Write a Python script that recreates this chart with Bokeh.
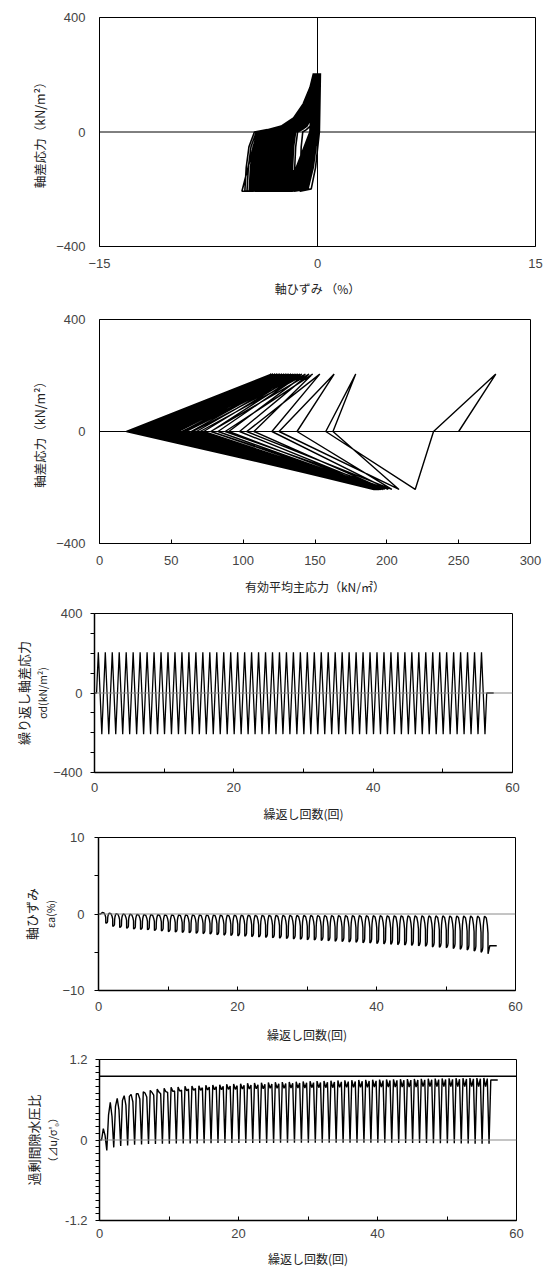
import numpy as np
from bokeh.plotting import figure
from bokeh.models import Range1d, FixedTicker, LinearAxis, Span
from bokeh.embed import file_html
from bokeh.resources import INLINE

# ---------------- data (one value per loading cycle) ----------------
# peak deviator stress in compression / extension (kN/m2)
q_comp = [205, 205, 205, 205, 205, 205, 205, 205, 205, 205,
          205, 205, 205, 205, 205, 205, 205, 205, 205, 205,
          205, 205, 205, 205, 205, 205, 205, 205, 205, 205,
          205, 205, 205, 205, 205, 205, 205, 205, 205, 205,
          205, 205, 205, 205, 205, 205, 205, 205, 205, 205,
          205, 205, 205, 205, 205, 205]
q_ext = [-207, -207, -207, -207, -207, -207, -207, -207, -207, -207,
         -207, -207, -207, -207, -207, -207, -207, -207, -207, -207,
         -207, -207, -207, -207, -207, -207, -207, -207, -207, -207,
         -207, -207, -207, -207, -207, -207, -207, -207, -207, -207,
         -207, -207, -207, -207, -207, -207, -207, -207, -207, -207,
         -207, -207, -207, -207, -207, -207]
# axial strain (%) at compression peak / extension peak
e_comp = [0.2, 0.12, 0.05, 0.0, -0.03, -0.05, -0.07, -0.08, -0.09, -0.1,
          -0.1, -0.11, -0.11, -0.12, -0.12, -0.13, -0.13, -0.14, -0.14, -0.15,
          -0.15, -0.15, -0.16, -0.16, -0.16, -0.17, -0.17, -0.17, -0.18, -0.18,
          -0.18, -0.19, -0.19, -0.19, -0.2, -0.2, -0.2, -0.2, -0.21, -0.21,
          -0.21, -0.22, -0.22, -0.22, -0.23, -0.23, -0.23, -0.24, -0.24, -0.24,
          -0.25, -0.25, -0.26, -0.26, -0.27, -0.28]
e_ext = [-1.2, -1.6, -1.75, -1.85, -1.95, -2.0, -2.05, -2.15, -2.2, -2.3,
         -2.35, -2.4, -2.45, -2.5, -2.55, -2.6, -2.7, -2.75, -2.8, -2.85,
         -2.9, -2.95, -3.0, -3.05, -3.1, -3.15, -3.2, -3.25, -3.3, -3.35,
         -3.4, -3.45, -3.5, -3.55, -3.6, -3.65, -3.7, -3.75, -3.8, -3.85,
         -3.9, -3.95, -4.0, -4.05, -4.1, -4.15, -4.2, -4.3, -4.35, -4.4,
         -4.5, -4.6, -4.7, -4.85, -5.0, -5.2]
# excess pore-pressure ratio at q=0 (rising), q=+peak, q=0 (falling), q=-peak
ru_tip = [0.0, 0.37, 0.5, 0.59, 0.65, 0.69, 0.72, 0.74, 0.76, 0.77,
          0.785, 0.79, 0.8, 0.805, 0.81, 0.815, 0.82, 0.825, 0.83, 0.835,
          0.84, 0.845, 0.85, 0.853, 0.856, 0.86, 0.863, 0.866, 0.869, 0.872,
          0.875, 0.878, 0.881, 0.884, 0.887, 0.89, 0.892, 0.894, 0.896, 0.898,
          0.9, 0.902, 0.904, 0.906, 0.908, 0.91, 0.912, 0.914, 0.916, 0.918,
          0.92, 0.921, 0.922, 0.923, 0.924, 0.925]
ru_top = [0.17, 0.56, 0.62, 0.66, 0.68, 0.69, 0.7, 0.71, 0.715, 0.72,
          0.725, 0.73, 0.735, 0.74, 0.74, 0.745, 0.75, 0.75, 0.755, 0.755,
          0.76, 0.76, 0.765, 0.765, 0.77, 0.77, 0.77, 0.775, 0.775, 0.775,
          0.78, 0.78, 0.78, 0.78, 0.785, 0.785, 0.785, 0.785, 0.785, 0.79,
          0.79, 0.79, 0.79, 0.79, 0.79, 0.79, 0.795, 0.795, 0.795, 0.795,
          0.795, 0.795, 0.795, 0.795, 0.795, 0.795]
ru_unl = [0.07, 0.35, 0.45, 0.52, 0.57, 0.61, 0.64, 0.67, 0.69, 0.71,
          0.73, 0.745, 0.76, 0.77, 0.78, 0.79, 0.795, 0.8, 0.805, 0.81,
          0.815, 0.82, 0.825, 0.83, 0.835, 0.84, 0.843, 0.846, 0.849, 0.852,
          0.855, 0.858, 0.861, 0.864, 0.867, 0.87, 0.873, 0.876, 0.879, 0.882,
          0.885, 0.887, 0.889, 0.891, 0.893, 0.895, 0.897, 0.899, 0.901, 0.903,
          0.905, 0.907, 0.909, 0.911, 0.913, 0.915]
ru_bot = [-0.155, -0.11, -0.09, -0.08, -0.07, -0.065, -0.06, -0.06, -0.055, -0.055,
          -0.05, -0.05, -0.05, -0.05, -0.048, -0.048, -0.046, -0.046, -0.045, -0.045,
          -0.045, -0.044, -0.044, -0.043, -0.043, -0.042, -0.042, -0.042, -0.041, -0.041,
          -0.04, -0.04, -0.04, -0.04, -0.04, -0.04, -0.04, -0.04, -0.04, -0.04,
          -0.042, -0.042, -0.043, -0.043, -0.044, -0.045, -0.046, -0.047, -0.048, -0.05,
          -0.05, -0.052, -0.053, -0.054, -0.055, -0.056]
p0 = 250.0          # initial effective mean stress (kN/m2)
ru_final = 0.895    # pore-pressure ratio after loading stops
e_final = -4.15     # axial strain after loading stops
t_end = 57.3        # end of record (cycles)
ru_limit = 0.95     # reference line in the pore-pressure panel

# ---------------- shape of one stress-strain loop (fractions of the strain range) ----------------
load_shape_s = [-0.15, -0.0625, 0.0, 0.01, 0.025, 0.06, 0.12, 0.19]
load_shape_f = [0.02, 0.06, 0.14, 0.33, 0.53, 0.71, 0.85, 0.95]
unload_shape_s = [0.5, 0.65, 0.74]
unload_shape_f = [0.95, 0.76, 0.55]

n = min(len(q_comp), len(q_ext), len(e_comp), len(e_ext),
        len(ru_tip), len(ru_top), len(ru_unl), len(ru_bot))
cycle_start = np.arange(n) + 0.3

key_t, key_q, key_ru = [0.0], [0.0], [0.0]
for k in range(n):
    t0 = cycle_start[k]
    key_t += [t0, t0 + 0.25, t0 + 0.5, t0 + 0.75]
    key_q += [0.0, q_comp[k], 0.0, q_ext[k]]
    key_ru += [ru_tip[k], ru_top[k], ru_unl[k], ru_bot[k]]
t_stop = cycle_start[n - 1] + 1.0
key_t += [t_stop, t_end]
key_q += [0.0, 0.0]
key_ru += [ru_final, ru_final]
key_t = np.array(key_t)
key_q = np.array(key_q)
key_ru = np.array(key_ru)
p_eff = p0 + key_q / 3.0 - p0 * key_ru

st, se = [0.0], [0.0]
prev_min = 0.0
for k in range(n):
    t0 = cycle_start[k]
    if k == 0:
        st.append(t0); se.append(0.0)
    else:
        for s, f in zip(load_shape_s, load_shape_f):
            st.append(t0 + s); se.append(prev_min + f * (e_comp[k] - prev_min))
    st.append(t0 + 0.25); se.append(e_comp[k])
    for s, f in zip(unload_shape_s, unload_shape_f):
        st.append(t0 + s); se.append(e_ext[k] + f * (e_comp[k] - e_ext[k]))
    st.append(t0 + 0.75); se.append(e_ext[k])
    prev_min = e_ext[k]
st += [t_stop, t_end]
se += [e_final, e_final]
st = np.array(st)
se = np.array(se)
sq = np.interp(st, key_t, key_q)

# ---------------- styling helpers ----------------
TICK_FONT = "Liberation Sans"
LABEL_FONT = "Noto Sans CJK JP"


def make_fig(h, xr, yr, top, bottom, left, right, width=550):
    p = figure(width=width, height=h, x_range=Range1d(*xr), y_range=Range1d(*yr),
               output_backend="svg", toolbar_location=None,
               min_border_top=top, min_border_bottom=bottom,
               min_border_left=left, min_border_right=right)
    p.xgrid.visible = False
    p.ygrid.visible = False
    p.outline_line_color = "black"
    p.outline_line_width = 1
    p.outline_line_alpha = 1
    p.background_fill_color = "white"
    p.border_fill_color = "white"
    return p


def style_axis(ax, ticks, minor=(), label="", tick_in=0, tick_out=0, standoff=5,
               label_standoff=5, label_size="12px", line_width=1, overrides=None):
    ax.ticker = FixedTicker(ticks=list(ticks), minor_ticks=list(minor))
    ax.axis_label = label
    ax.axis_line_color = "black"
    ax.axis_line_width = line_width
    ax.major_tick_in = tick_in
    ax.major_tick_out = tick_out
    ax.minor_tick_in = tick_in
    ax.minor_tick_out = tick_out
    has_ticks = (tick_in + tick_out) > 0
    ax.major_tick_line_color = "black" if has_ticks else None
    ax.minor_tick_line_color = "black" if has_ticks else None
    ax.major_label_standoff = standoff
    ax.major_label_text_font = TICK_FONT
    ax.major_label_text_font_size = "13px"
    ax.major_label_text_color = "#444444"
    ax.axis_label_text_font = LABEL_FONT
    ax.axis_label_text_font_size = label_size
    ax.axis_label_text_font_style = "normal"
    ax.axis_label_text_color = "#222222"
    ax.axis_label_standoff = label_standoff
    if overrides:
        ax.major_label_overrides = overrides


def extra_label(p, text, size="12.5px", standoff=0):
    ax = LinearAxis(ticker=FixedTicker(ticks=[]), axis_label=text)
    ax.axis_line_color = None
    ax.major_tick_line_color = None
    ax.minor_tick_line_color = None
    ax.major_tick_in = 0
    ax.major_tick_out = 0
    ax.minor_tick_in = 0
    ax.minor_tick_out = 0
    ax.major_label_standoff = 0
    ax.axis_label_text_font = LABEL_FONT
    ax.axis_label_text_font_size = size
    ax.axis_label_text_font_style = "normal"
    ax.axis_label_text_color = "#222222"
    ax.axis_label_standoff = standoff
    p.add_layout(ax, "left")


# ---------------- panel 1: stress-strain ----------------
p1 = make_fig(300, (-15, 15), (-400, 400), top=17, bottom=54, left=99, right=15)
style_axis(p1.xaxis[0], [-15, 0, 15], label="軸ひずみ （%）", standoff=12, label_standoff=9)
style_axis(p1.yaxis[0], [-400, 0, 400], label="軸差応力（kN/m²）", standoff=14,
           label_standoff=4, label_size="12.5px")
p1.add_layout(Span(location=0, dimension="width", line_color="black", line_width=1))
p1.add_layout(Span(location=0, dimension="height", line_color="black", line_width=1))
p1.line(se, sq, line_color="black", line_width=1.6)

# ---------------- panel 2: effective stress path ----------------
p2 = make_fig(300, (0, 300), (-400, 400), top=19, bottom=57, left=99, right=20)
style_axis(p2.xaxis[0], [0, 50, 100, 150, 200, 250, 300], label="有効平均主応力（kN/㎡）",
           tick_in=4, standoff=12, label_standoff=10)
style_axis(p2.yaxis[0], [-400, 0, 400], label="軸差応力（kN/m²）", standoff=14,
           label_standoff=4, label_size="12.5px")
p2.add_layout(Span(location=0, dimension="width", line_color="black", line_width=1))
p2.line(p_eff, key_q, line_color="black", line_width=1.4)

# ---------------- panel 3: cyclic deviator stress ----------------
x_major = [0, 20, 40, 60]
x_minor = [10, 30, 50]
p3 = make_fig(225, (0, 60), (-400, 400), top=13, bottom=53, left=94, right=38)
style_axis(p3.xaxis[0], x_major, x_minor, label="繰返し回数(回)", tick_in=4,
           standoff=10, label_standoff=10, line_width=1.5)
style_axis(p3.yaxis[0], [-400, 0, 400], [-300, -200, -100, 100, 200, 300],
           label="σd(kN/m²)", tick_out=4, standoff=8, label_standoff=0,
           label_size="10.5px", line_width=1.5)
extra_label(p3, "繰り返し軸差応力", size="13px")
p3.add_layout(Span(location=0, dimension="width", line_color="#8a8a8a", line_width=1))
p3.line(key_t, key_q, line_color="black", line_width=1.3)

# ---------------- panel 4: axial strain history ----------------
p4 = make_fig(220, (0, 60), (-10, 10), top=12, bottom=48, left=98, right=35)
style_axis(p4.xaxis[0], x_major, x_minor, label="繰返し回数(回)", tick_in=4,
           standoff=11, label_standoff=12, line_width=1.5)
style_axis(p4.yaxis[0], [-10, 0, 10], [-5, 5], label="εa(%)", tick_out=4,
           standoff=10, label_standoff=1, label_size="10.5px", line_width=1.5)
extra_label(p4, "軸ひずみ", size="13px")
p4.add_layout(Span(location=0, dimension="width", line_color="#8a8a8a", line_width=1))
p4.line(st, se, line_color="black", line_width=1.4)

# ---------------- panel 5: excess pore-pressure ratio ----------------
ru_minor = [round(-1.1 + 0.1 * i, 1) for i in range(23) if round(-1.1 + 0.1 * i, 1) != 0.0]
p5 = make_fig(224, (0, 60), (-1.2, 1.2), top=14, bottom=49, left=99, right=34)
style_axis(p5.xaxis[0], x_major, x_minor, label="繰返し回数(回)", tick_in=4,
           standoff=8, label_standoff=9, line_width=1.5)
style_axis(p5.yaxis[0], [-1.2, 0, 1.2], ru_minor, label="（⊿u/σ'₀）", tick_out=4,
           standoff=8, label_standoff=2, label_size="10.5px", line_width=1.5,
           overrides={-1.2: "-1.2", 0: "0", 1.2: "1.2"})
extra_label(p5, "過剰間隙水圧比", size="13px")
p5.add_layout(Span(location=0, dimension="width", line_color="#8a8a8a", line_width=1))
p5.add_layout(Span(location=ru_limit, dimension="width", line_color="black", line_width=1.5))
p5.line(key_t, key_ru, line_color="black", line_width=1.4)

open("out.html", "w").write(file_html([p1, p2, p3, p4, p5], INLINE))
